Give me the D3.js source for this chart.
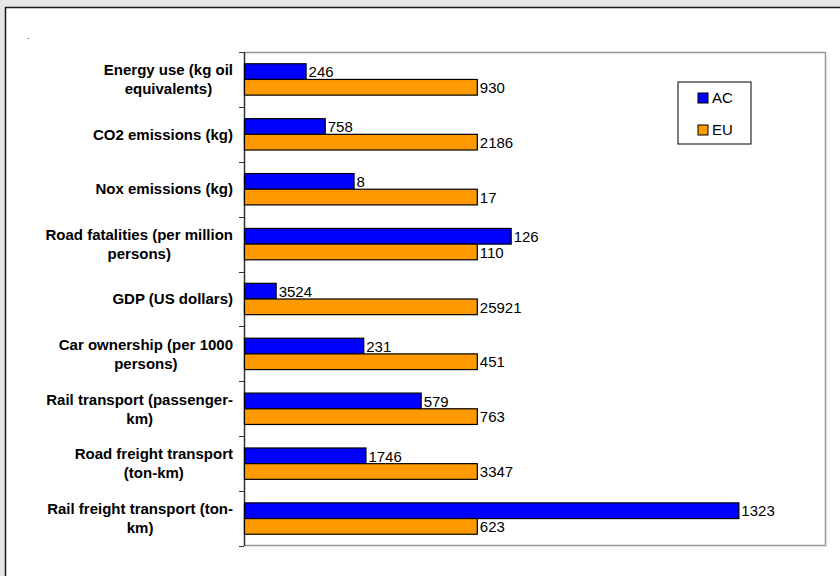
<!DOCTYPE html>
<html>
<head>
<meta charset="utf-8">
<script src="https://cdn.jsdelivr.net/npm/d3@7"></script>
<style>
  html, body { margin: 0; padding: 0; background: #e6e6e6; }
  svg { display: block; }
  text { font-family: "Liberation Sans", Arial, sans-serif; fill: #000; }
</style>
</head>
<body>
<div id="chart"></div>
<script>

var categories = [
  ["Energy use (kg oil", "equivalents)"],
  ["CO2 emissions (kg)"],
  ["Nox emissions (kg)"],
  ["Road fatalities (per million", "persons)"],
  ["GDP (US dollars)"],
  ["Car ownership (per 1000", "persons)"],
  ["Rail transport (passenger-", "km)"],
  ["Road freight transport", "(ton-km)"],
  ["Rail freight transport (ton-", "km)"]
];
var acValues = [246, 758, 8, 126, 3524, 231, 579, 1746, 1323];
var euValues = [930, 2186, 17, 110, 25921, 451, 763, 3347, 623];
var seriesNames = ["AC", "EU"];
var seriesColors = ["#0000ff", "#ff9900"];

var W = 840, H = 576
  , plot = { left: 244, top: 52, right: 826, bottom: 546 }
  , labelRight = plot.left - 11;

var svg = d3.select("#chart").append("svg")
  .attr("width", W)
  .attr("height", H);

// chart frame
svg.append("rect")
  .attr("x", 5).attr("y", 7)
  .attr("width", W).attr("height", H)
  .attr("fill", "#fff");
svg.append("path")
  .attr("d", "M5.5," + H + "V7.5H" + W)
  .attr("fill", "none")
  .attr("stroke", "#1a1a1a")
  .attr("stroke-width", 1.5);

svg.append("text")
  .attr("x", 27).attr("y", 39)
  .style("font-size", "9px")
  .text(".");

// rows: each value shown relative to EU (EU = 100%)
var rows = categories.map(function (c, i) {
  return { label: c, values: [acValues[i], euValues[i]], base: euValues[i] };
});

var y = d3.scaleBand()
  .domain(d3.range(rows.length))
  .range([plot.top, plot.bottom]);

var gap = y.bandwidth() * 1.5 / 3.5;
var ySeries = d3.scaleBand()
  .domain(d3.range(seriesNames.length))
  .range([gap / 2, y.bandwidth() - gap / 2]);

var x = d3.scaleLinear()
  .domain([0, 2.5])
  .range([plot.left, plot.right]);

// plot border
svg.append("path")
  .attr("d", "M" + plot.left + "," + (plot.top + 0.5) + "H" + (plot.right - 0.5) +
             "V" + (plot.bottom - 0.5) + "H" + plot.left)
  .attr("fill", "none")
  .attr("stroke", "#999")
  .attr("stroke-width", 1.5);

// category axis with ticks at band edges
var ticks = d3.range(rows.length + 1).map(function (i) { return plot.top + i * y.step(); });
svg.append("line")
  .attr("x1", plot.left + 0.5).attr("x2", plot.left + 0.5)
  .attr("y1", plot.top).attr("y2", plot.bottom)
  .attr("stroke", "#333")
  .attr("stroke-width", 1.5);
svg.selectAll(".tick")
  .data(ticks)
  .enter().append("line")
  .attr("class", "tick")
  .attr("x1", plot.left - 5).attr("x2", plot.left)
  .attr("y1", function (d) { return Math.round(d) + 0.5; })
  .attr("y2", function (d) { return Math.round(d) + 0.5; })
  .attr("stroke", "#333");

var groups = svg.selectAll(".row")
  .data(rows)
  .enter().append("g")
  .attr("class", "row")
  .attr("transform", function (d, i) { return "translate(0," + y(i) + ")"; });

// category labels: lines centred on each other, block right-aligned
groups.append("text")
  .attr("text-anchor", "middle")
  .style("font-size", "15px")
  .style("font-weight", "bold")
  .each(function (d) {
    var t = d3.select(this)
      , n = d.label.length
      , lh = 19
      , y0 = y.bandwidth() / 2 - (n - 1) * lh / 2
      , spans = [];
    d.label.forEach(function (line, k) {
      spans.push(t.append("tspan")
        .attr("y", y0 + k * lh)
        .attr("dy", "0.35em")
        .text(line));
    });
    var maxW = d3.max(spans, function (s) { return s.node().getComputedTextLength(); });
    spans.forEach(function (s) { s.attr("x", labelRight - maxW / 2); });
  });

// bars
groups.selectAll("rect")
  .data(function (d) { return d.values.map(function (v, k) { return { v: v, k: k, base: d.base }; }); })
  .enter().append("rect")
  .attr("x", plot.left + 0.5)
  .attr("y", function (d) { return ySeries(d.k); })
  .attr("width", function (d) { return x(d.v / d.base) - plot.left; })
  .attr("height", ySeries.bandwidth())
  .attr("fill", function (d) { return seriesColors[d.k]; })
  .attr("stroke", "#000")
  .attr("stroke-width", 1.2);

// value labels
groups.selectAll(".val")
  .data(function (d) { return d.values.map(function (v, k) { return { v: v, k: k, base: d.base }; }); })
  .enter().append("text")
  .attr("class", "val")
  .attr("x", function (d) { return x(d.v / d.base) + 3; })
  .attr("y", function (d) { return ySeries(d.k) + ySeries.bandwidth() / 2; })
  .attr("dy", "0.38em")
  .style("font-size", "15px")
  .text(function (d) { return d.v; });

// legend
var legend = svg.append("g").attr("transform", "translate(678,82)");
legend.append("rect")
  .attr("width", 73).attr("height", 62)
  .attr("fill", "#fff")
  .attr("stroke", "#000");
var items = legend.selectAll(".item")
  .data(seriesNames)
  .enter().append("g")
  .attr("class", "item")
  .attr("transform", function (d, i) { return "translate(20," + (11 + i * 32) + ")"; });
items.append("rect")
  .attr("width", 10).attr("height", 10)
  .attr("fill", function (d, i) { return seriesColors[i]; })
  .attr("stroke", "#000");
items.append("text")
  .attr("x", 14).attr("y", 5)
  .attr("dy", "0.36em")
  .style("font-size", "15px")
  .text(function (d) { return d; });

</script>
</body>
</html>
